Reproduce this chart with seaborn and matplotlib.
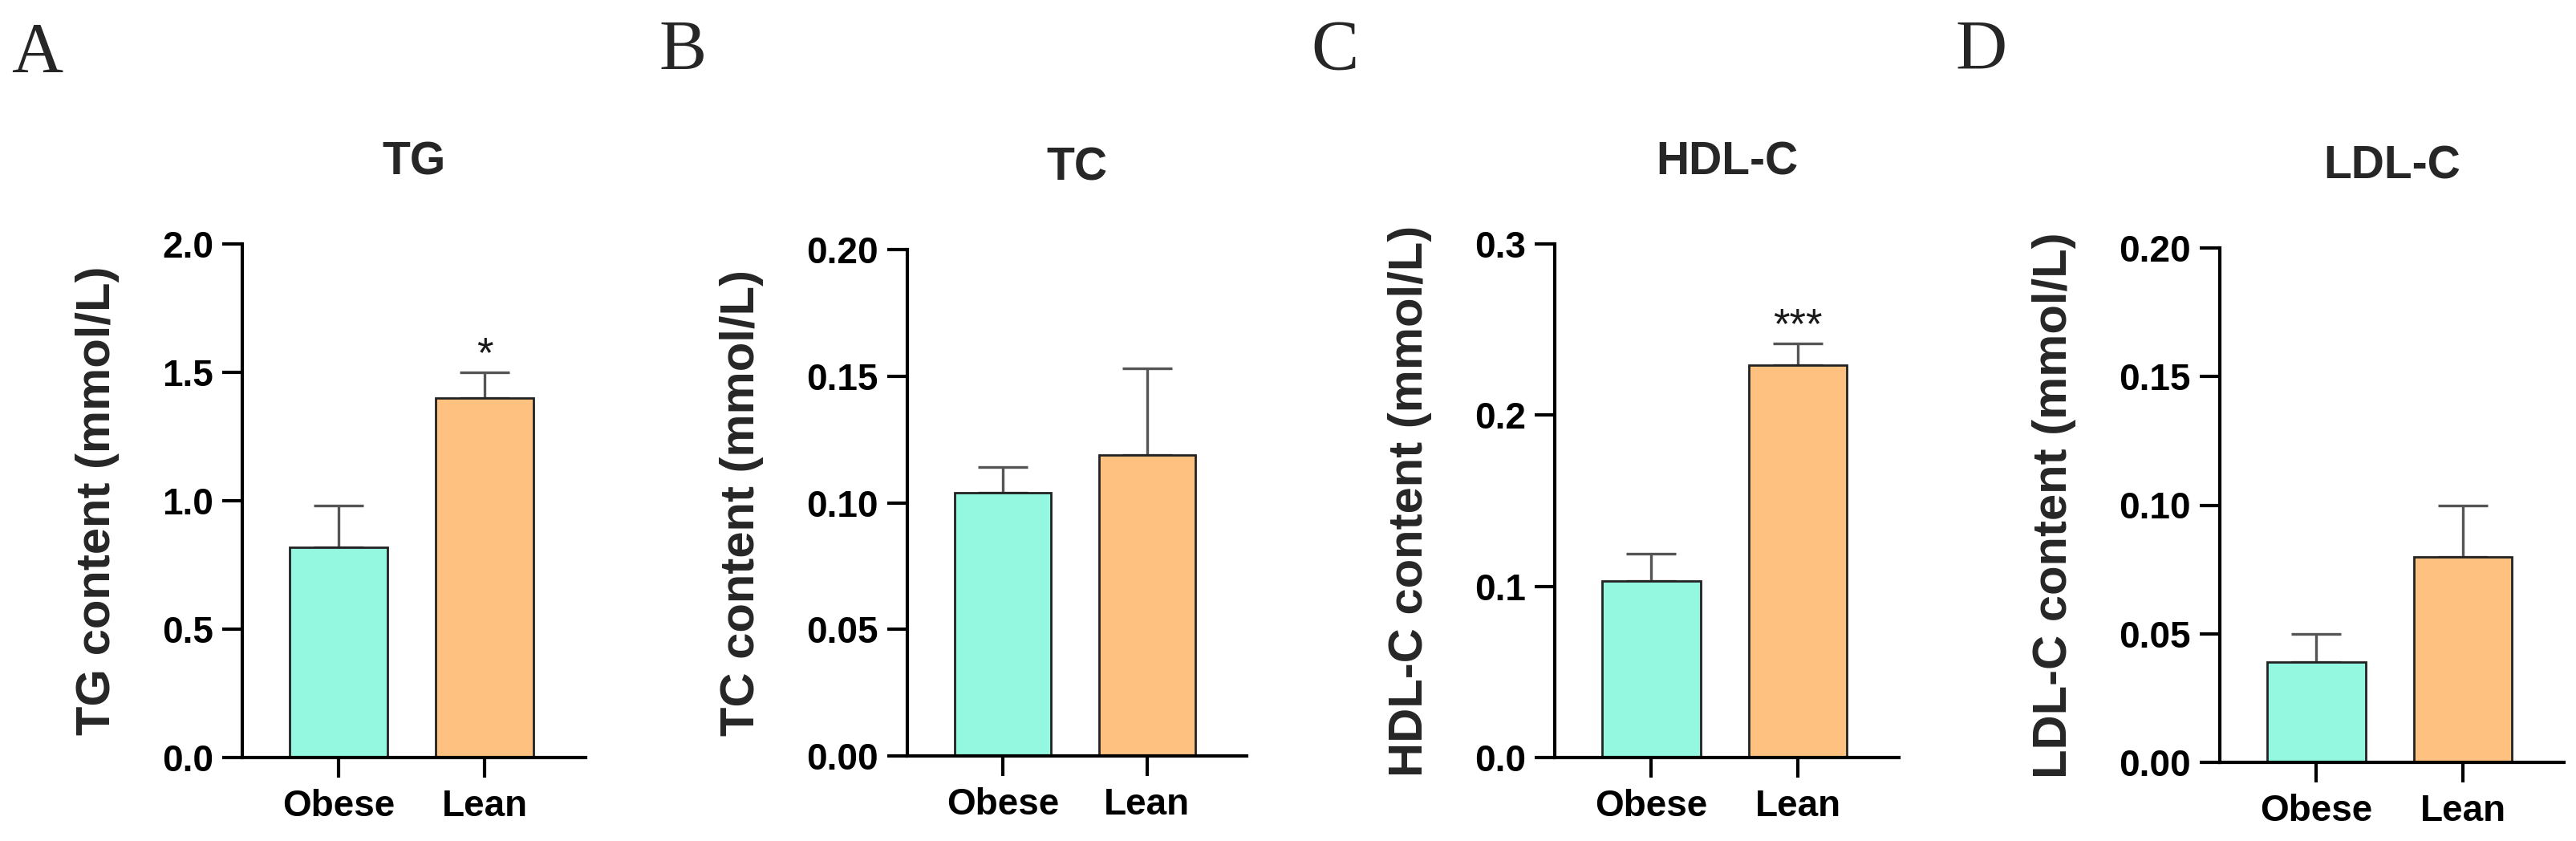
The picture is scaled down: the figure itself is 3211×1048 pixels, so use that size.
import numpy as np
import pandas as pd
import matplotlib
matplotlib.use('Agg')
import matplotlib.pyplot as plt
import seaborn as sns

# group labels and colours
groups = ['Obese', 'Lean']
group_colors = ['#94F7E0', '#FFC180']

# panel info
panel_letters = ['A', 'B', 'C', 'D']
panel_titles = ['TG', 'TC', 'HDL-C', 'LDL-C']
y_labels = ['TG content (mmol/L)', 'TC content (mmol/L)',
            'HDL-C content (mmol/L)', 'LDL-C content (mmol/L)']

# means and SEM (Obese, Lean)
tg_mean = [0.82, 1.40]
tg_sem = [0.16, 0.10]
tc_mean = [0.104, 0.119]
tc_sem = [0.010, 0.034]
hdl_mean = [0.103, 0.229]
hdl_sem = [0.016, 0.013]
ldl_mean = [0.039, 0.080]
ldl_sem = [0.011, 0.020]

# significance marks (Obese, Lean)
tg_stars = ['', '*']
tc_stars = ['', '']
hdl_stars = ['', '***']
ldl_stars = ['', '']

# y axis ticks
tg_ticks = [0.0, 0.5, 1.0, 1.5, 2.0]
tc_ticks = [0.00, 0.05, 0.10, 0.15, 0.20]
hdl_ticks = [0.0, 0.1, 0.2, 0.3]
ldl_ticks = [0.00, 0.05, 0.10, 0.15, 0.20]

means = [tg_mean, tc_mean, hdl_mean, ldl_mean]
sems = [tg_sem, tc_sem, hdl_sem, ldl_sem]
stars = [tg_stars, tc_stars, hdl_stars, ldl_stars]
ticks = [tg_ticks, tc_ticks, hdl_ticks, ldl_ticks]
tick_fmt = ['{:.1f}', '{:.2f}', '{:.1f}', '{:.2f}']

sns.set_style('ticks')
plt.rcParams['font.family'] = ['Liberation Sans', 'DejaVu Sans']
plt.rcParams['font.weight'] = 'bold'

W, H = 3211, 1048
fig = plt.figure(figsize=(W / 100, H / 100), dpi=100)

# axes boxes in pixels: left, top, right, bottom
boxes = [(302, 304, 730, 944),
         (1131, 311, 1554, 942),
         (1938, 304, 2367, 944),
         (2767, 309, 3196, 950)]
letter_pos = [(46, 67), (851, 64), (1664, 64), (2470, 64)]

for i in range(4):
    l, t, r, b = boxes[i]
    ax = fig.add_axes([l / W, 1 - b / H, (r - l) / W, (b - t) / H])

    df = pd.DataFrame({'group': groups, 'value': means[i]})
    sns.barplot(data=df, x='group', y='value', hue='group', palette=group_colors,
                saturation=1, errorbar=None, width=0.67, edgecolor='#222222',
                linewidth=2, legend=False, ax=ax, zorder=2)

    x = np.arange(len(groups))
    ax.errorbar(x, means[i], yerr=[np.zeros(len(groups)), sems[i]], fmt='none',
                ecolor='#555555', elinewidth=2.4, capsize=22, capthick=2.4, zorder=1)

    top = ticks[i][-1]
    for j, s in enumerate(stars[i]):
        if s:
            ax.annotate(s, (x[j], means[i][j] + sems[i][j]), xytext=(0, 5),
                        textcoords='offset points', ha='center', va='baseline',
                        fontsize=38, fontweight='normal', color='#1a1a1a')

    ax.set_xlim(-0.66, 1.69)
    ax.set_ylim(0, top)
    ax.set_yticks(ticks[i])
    ax.set_yticklabels([tick_fmt[i].format(v) for v in ticks[i]])
    ax.set_xlabel('')
    ax.set_ylabel(y_labels[i], fontsize=43, fontweight='bold', labelpad=38)
    ax.set_title(panel_titles[i], fontsize=41, fontweight='bold', pad=62)

    for side in ['top', 'right']:
        ax.spines[side].set_visible(False)
    for side in ['left', 'bottom']:
        ax.spines[side].set_linewidth(3)
        ax.spines[side].set_color('black')
    ax.tick_params(axis='both', width=3, length=18, labelsize=33, colors='black')
    ax.tick_params(axis='y', pad=8)
    ax.tick_params(axis='x', pad=10)
    for lab in ax.get_xticklabels() + ax.get_yticklabels():
        lab.set_fontweight('bold')

    lx, ly = letter_pos[i]
    fig.text(lx / W, 1 - ly / H, panel_letters[i], ha='center', va='center',
             fontsize=64, family='Liberation Serif', fontweight='normal')

fig.savefig('out.png', dpi=100, facecolor='white')
